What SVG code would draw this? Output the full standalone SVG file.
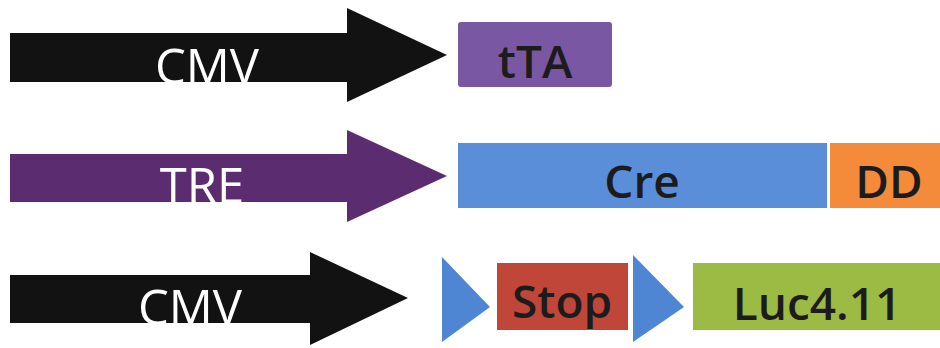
<svg xmlns="http://www.w3.org/2000/svg" width="940" height="348" viewBox="0 0 940 348">
<style>
.lbl{font-family:"Open Sans","Liberation Sans",sans-serif;text-anchor:middle}
.w{fill:#ffffff;font-weight:400;font-size:49px}
.d{fill:#1c1c1c;font-weight:600;font-size:46px}
</style>
<rect width="940" height="348" fill="#ffffff"/>
<g id="connectors">
<g id="cmv1">
<polygon points="10,33 347,33 347,8 447,55 347,102 347,82 10,82" fill="#121212"/>
<text class="lbl w" x="207" y="84">CMV</text>
</g>
<g id="tre">
<polygon points="10,154 347,154 347,130 447,176 347,222 347,202 10,202" fill="#5b2d70"/>
<text class="lbl w" x="202" y="203">TRE</text>
</g>
<g id="cmv2">
<polygon points="10,275 310,275 310,252 408,298 310,345 310,323 10,323" fill="#121212"/>
<text class="lbl w" x="190" y="325">CMV</text>
</g>
</g>
<g id="tTA">
<rect x="458" y="22" width="154" height="65" rx="3" fill="#7a57a2"/>
<text class="lbl d" x="535" y="78">tTA</text>
</g>
<g id="Cre">
<rect x="458" y="143" width="369" height="65" fill="#5b8ed8"/>
<text class="lbl d" x="642" y="198">Cre</text>
</g>
<g id="DD">
<rect x="830" y="143" width="110" height="65" fill="#f38b3b"/>
<text class="lbl d" x="889" y="198">DD</text>
</g>
<g id="lox1">
<polygon points="442,257 490,307 442,342" fill="#4f86d4"/>
</g>
<g id="Stop">
<rect x="497" y="263" width="131" height="67" fill="#c1463a"/>
<text class="lbl d" x="562" y="318">Stop</text>
</g>
<g id="lox2">
<polygon points="633,255 684,307 633,342" fill="#4f86d4"/>
</g>
<g id="Luc">
<rect x="693" y="263" width="247" height="67" fill="#9cbb45"/>
<text class="lbl d" x="817" y="320">Luc4.11</text>
</g>
</svg>
